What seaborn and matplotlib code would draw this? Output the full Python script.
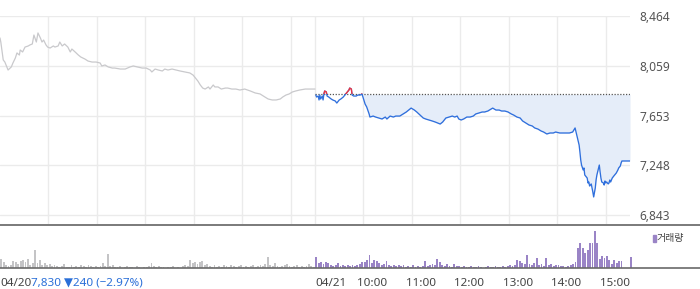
import numpy as np
import matplotlib
matplotlib.use("Agg")
import matplotlib.pyplot as plt
from matplotlib.patches import Rectangle
import seaborn as sns

# ---------------- data ----------------
# minutes since 09:00 of 04/20 (04/21 09:00 = 390)
prev_t = [0, 1, 4, 6, 10, 14, 16, 19, 21, 24, 25, 28, 31, 35, 37, 40, 42, 45, 47, 50,
          52, 54, 57, 59, 62, 66, 68, 72, 74, 77, 80, 84, 87, 89, 93, 97, 100, 105, 109, 114,
          119, 124, 126, 130, 134, 139, 142, 149, 155, 161, 165, 170, 176, 181, 186, 188, 192, 196, 201, 204,
          208, 213, 218, 223, 229, 235, 239, 241, 245, 248, 251, 254, 258, 260, 264, 266, 270, 274, 279, 282,
          287, 292, 297, 303, 310, 316, 322, 328, 332, 337, 342, 347, 350, 354, 358, 362, 366, 371, 378, 384, 390]
prev_p = [8285, 8252, 8106, 8089, 8024, 8049, 8081, 8122, 8163, 8146, 8187, 8171, 8211, 8220, 8228, 8236, 8309, 8252, 8326, 8285,
          8252, 8268, 8228, 8211, 8203, 8220, 8211, 8220, 8252, 8220, 8236, 8211, 8171, 8195, 8171, 8146, 8130, 8114, 8097, 8089,
          8089, 8081, 8057, 8065, 8049, 8040, 8040, 8032, 8032, 8049, 8057, 8049, 8040, 8040, 8024, 8008, 8032, 8024, 8016, 8032,
          8024, 8032, 8024, 8016, 8008, 8000, 7983, 7967, 7934, 7902, 7877, 7869, 7886, 7869, 7902, 7886, 7886, 7869, 7877, 7877,
          7869, 7869, 7861, 7869, 7853, 7837, 7829, 7804, 7788, 7780, 7780, 7788, 7804, 7820, 7829, 7845, 7853, 7861, 7869, 7869, 7869]

today_t = [391, 392, 394, 395, 396, 397, 399, 400, 401, 402, 404, 405, 407, 410, 412, 415, 417, 420, 422, 425,
           427, 430, 432, 433, 435, 436, 438, 441, 443, 446, 448, 449, 452, 454, 457, 458, 462, 465, 469, 473,
           477, 479, 483, 487, 490, 495, 499, 503, 506, 509, 513, 516, 520, 524, 527, 531, 535, 539, 542, 545,
           548, 552, 556, 560, 563, 566, 568, 571, 574, 578, 582, 586, 589, 593, 597, 600, 604, 608, 610, 614,
           618, 621, 625, 629, 633, 636, 640, 644, 647, 651, 655, 659, 662, 666, 670, 673, 677, 681, 685, 688,
           693, 699, 705, 709, 712, 714, 717, 718, 719, 720, 722, 723, 724, 727, 728, 729, 730, 732, 733, 734,
           735, 737, 738, 739, 742, 743, 744, 745, 747, 748, 749, 750, 751, 753, 754, 755, 756, 758, 760, 763,
           765, 766, 768, 769, 770, 780]
today_p = [7820, 7804, 7812, 7780, 7820, 7788, 7812, 7780, 7829, 7853, 7845, 7812, 7804, 7788, 7780, 7772, 7755, 7780, 7788, 7804,
           7820, 7845, 7861, 7877, 7869, 7820, 7812, 7812, 7820, 7820, 7829, 7812, 7747, 7723, 7666, 7641, 7649, 7641, 7633, 7625,
           7641, 7625, 7649, 7641, 7649, 7649, 7666, 7682, 7698, 7714, 7698, 7682, 7657, 7633, 7625, 7617, 7609, 7600, 7592, 7584,
           7600, 7633, 7641, 7649, 7641, 7649, 7625, 7617, 7625, 7641, 7641, 7649, 7666, 7674, 7682, 7682, 7690, 7706, 7714, 7698,
           7698, 7690, 7690, 7682, 7666, 7657, 7641, 7633, 7609, 7592, 7576, 7568, 7552, 7543, 7527, 7519, 7503, 7511, 7511, 7519,
           7511, 7511, 7511, 7519, 7552, 7495, 7413, 7356, 7291, 7250, 7210, 7226, 7169, 7144, 7104, 7112, 7079, 7096, 7063, 7030,
           6990, 7063, 7128, 7169, 7250, 7193, 7144, 7112, 7104, 7087, 7120, 7104, 7112, 7096, 7104, 7128, 7112, 7144, 7161, 7185,
           7210, 7226, 7242, 7267, 7283, 7283]
ref_price = 7826

ytick_vals = [8464, 8059, 7653, 7248, 6843]
ytick_labels = ["8,464", "8,059", "7,653", "7,248", "6,843"]

# volume per 3-minute bin
vol_prev = [9, 6, 3, 2, 3, 7, 6, 4, 7, 8,
            6, 9, 3, 5, 18, 5, 8, 3, 5, 3,
            4, 2, 3, 2, 1, 2, 4, 1, 1, 3,
            1, 2, 1, 3, 2, 1, 3, 2, 1, 2,
            1, 2, 5, 2, 14, 2, 3, 1, 1, 2,
            0, 1, 2, 1, 1, 0, 2, 1, 0, 1,
            1, 2, 5, 2, 1, 2, 1, 1, 0, 1,
            1, 2, 0, 1, 0, 2, 3, 2, 8, 5,
            6, 4, 6, 7, 3, 4, 2, 1, 3, 1,
            2, 1, 3, 2, 1, 3, 2, 1, 2, 3,
            1, 2, 1, 2, 3, 1, 2, 3, 2, 4,
            11, 3, 2, 5, 2, 1, 2, 3, 4, 2,
            1, 2, 3, 1, 2, 1, 2, 4, 2, 1]
vol_today = [11, 5, 6, 4, 6, 5, 3, 2, 3, 5,
             2, 3, 2, 3, 2, 3, 2, 3, 4, 6,
             6, 8, 13, 5, 8, 7, 5, 3, 4, 7,
             3, 2, 3, 2, 3, 2, 3, 1, 2, 1,
             3, 1, 2, 1, 2, 7, 2, 3, 4, 3,
             9, 6, 3, 2, 4, 2, 1, 4, 2, 2,
             1, 2, 1, 1, 2, 1, 1, 2, 1, 0,
             1, 2, 1, 1, 2, 1, 1, 2, 1, 2,
             3, 2, 3, 8, 7, 5, 4, 13, 4, 3,
             5, 10, 3, 4, 2, 10, 3, 4, 2, 3,
             3, 2, 2, 1, 2, 3, 4, 6, 20, 25,
             20, 15, 18, 25, 25, 37, 25, 9, 12, 10,
             12, 8, 4, 8, 5, 7, 7, 0, 0, 0]
vol_close = 11

grid_t = [60, 120, 180, 240, 300, 360, 390, 450, 510, 570, 630, 690, 750]
xtick_t = [0, 390, 450, 510, 570, 630, 690, 750]
xtick_labels = ["04/20", "04/21", "10:00", "11:00", "12:00", "13:00", "14:00", "15:00"]
summary_text = "7,830 \u25bc240 (\u22122.97%)"
legend_label = "거래량"

# ---------------- style ----------------
sns.set_style("white")
plt.rcParams['font.family'] = ['Noto Sans', 'DejaVu Sans']

W, H = 700, 289
PX = 8.146  # price per pixel
fig = plt.figure(figsize=(7, 2.89), dpi=100)
ax = fig.add_axes([0, 1 - 225 / H, 630 / W, (225 - 15.5) / H])
axv = fig.add_axes([0, 1 - 268 / H, 1, (268 - 225) / H])
for a in (ax, axv):
    a.set_facecolor('none')

GRAY = '#c9c9cc'
BLUE = '#2f6fdc'
RED = '#f0323c'
FILL = '#e5edf9'
PURPLE = '#9a84c6'

# price chart
ax.fill_between(today_t, today_p, ref_price,
                where=[(t >= 449) and (p <= ref_price) for t, p in zip(today_t, today_p)],
                interpolate=True, color=FILL, linewidth=0, zorder=1)
sns.lineplot(x=prev_t, y=prev_p, ax=ax, color=GRAY, linewidth=0.9,
             estimator=None, sort=False, zorder=3)
sns.lineplot(x=today_t, y=today_p, ax=ax, color=BLUE, linewidth=0.95,
             estimator=None, sort=False, zorder=3)
sns.lineplot(x=today_t, y=today_p, ax=ax, color=RED, linewidth=0.95,
             estimator=None, sort=False, zorder=4)
red_line = ax.lines[-1]
clip = Rectangle((390, ref_price), 400, 3000, transform=ax.transData)
red_line.set_clip_path(clip)
ax.plot([390, 780], [ref_price, ref_price], color='#555555', linewidth=0.9,
        linestyle=(0, (1, 1.3)), zorder=2)

ax.set_xlim(0, 780)
ax.set_ylim(8464 - (225 - 16) * PX, 8464 + 0.5 * PX)
ax.set_xticks(grid_t)
ax.set_yticks(ytick_vals)
ax.set_yticklabels(ytick_labels)
ax.yaxis.tick_right()
ax.grid(True, color='#ebebeb', linewidth=1)
ax.set_axisbelow(True)
ax.tick_params(axis='x', labelbottom=False, length=0)
ax.tick_params(axis='y', length=0, pad=6.5, labelsize=8.6, labelcolor='#555555')
for s in ax.spines.values():
    s.set_visible(False)
ax.set_xlabel('')
ax.set_ylabel('')

# volume chart
t_prev_bins = np.arange(0, 390, 3)
t_today_bins = np.append(np.arange(390, 780, 3), 780)
sns.histplot(x=t_prev_bins, weights=vol_prev, binwidth=3, binrange=(0, 390),
             color='#c4c4c6', alpha=1, linewidth=0, shrink=0.75, ax=axv)
sns.histplot(x=t_today_bins, weights=list(vol_today) + [vol_close], binwidth=3, binrange=(390, 783),
             color=PURPLE, alpha=1, linewidth=0, shrink=0.75, ax=axv)
axv.set_xlim(0, 780 * 700 / 630)
axv.set_ylim(0, 43)
axv.set_yticks([])
axv.set_xticks(xtick_t)
axv.set_xticklabels([])
axv.tick_params(axis='x', length=4, width=1, color='#444444', direction='out', pad=0)
axv.set_xlabel('')
axv.set_ylabel('')
for side in ('left', 'right'):
    axv.spines[side].set_visible(False)
axv.spines['top'].set_color('#7a7a7a')
axv.spines['top'].set_linewidth(1.4)
axv.spines['bottom'].set_color('#6a6a6a')
axv.spines['bottom'].set_linewidth(1.2)

# x labels
first = None
for t, lab in zip(xtick_t, xtick_labels):
    dx = 0 if lab.startswith('04') else -4.3
    txt = axv.annotate(lab, xy=(t, 0), xycoords=('data', 'axes fraction'),
                       xytext=(dx, -10.8), textcoords='offset points',
                       ha='left', va='center', fontsize=8.4, color='#444444',
                       annotation_clip=False)
    if first is None:
        first = txt
axv.annotate(summary_text, xy=(1, 0), xycoords=first, ha='left', va='bottom',
             fontsize=8.4, color='#2a6fd8')

# legend
fig.patches.append(Rectangle((653 / W, 1 - 241.5 / H), 3 / W, 7 / H,
                             transform=fig.transFigure, color=PURPLE))
fig.text(657 / W, 1 - 238 / H, legend_label, family=['Noto Sans CJK KR', 'DejaVu Sans'],
         fontsize=7.2, va='center', ha='left', color='#444444')

fig.savefig('out.png', dpi=100)
